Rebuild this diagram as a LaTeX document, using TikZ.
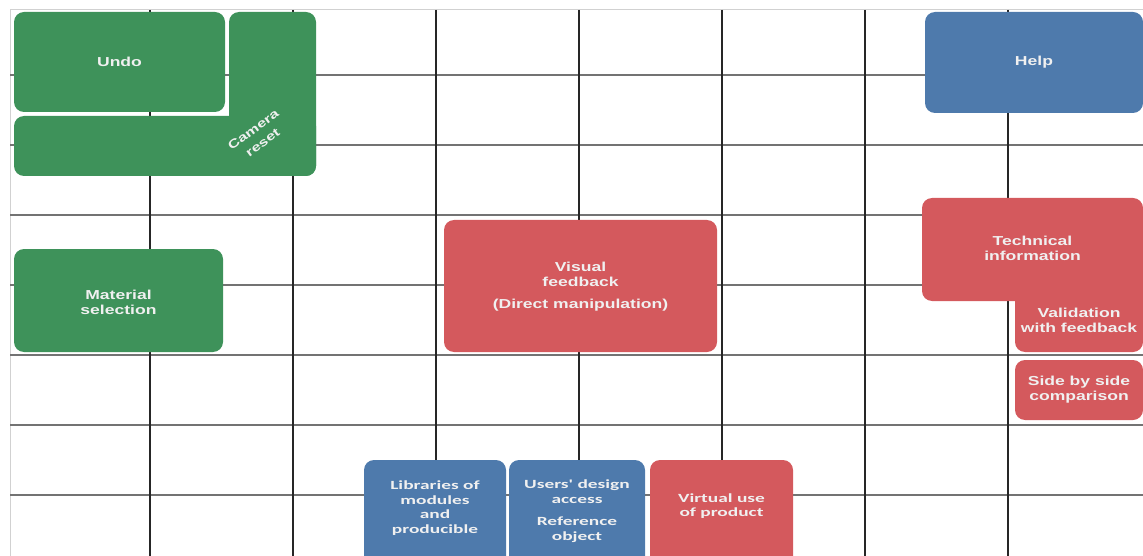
\documentclass[tikz,border=0pt]{standalone}
\usepackage{fontspec}
\usepackage{tikz}
\newfontfamily\boxfont{Liberation Sans}[FakeStretch=1.35]
\newfontfamily\calfont{Carlito}[FakeStretch=1.55]
\definecolor{boxgreen}{HTML}{3E925A}
\definecolor{boxblue}{HTML}{4E7AAC}
\definecolor{boxred}{HTML}{D4595D}
\tikzset{
  box/.style={rounded corners=10pt, inner sep=0pt},
  lbl/.style={text=white!94!black, align=center, inner sep=0pt,
    font=\boxfont\bfseries\fontsize{13}{15}\selectfont},
  clbl/.style={text=white!94!black, align=center, inner sep=0pt,
    font=\calfont\bfseries\fontsize{12.5}{14.5}\selectfont},
}

\begin{document}
\begin{tikzpicture}[x=1pt,y=-1pt]

\useasboundingbox (0,0) rectangle (1143,556);
\clip (0,0) rectangle (1143,556);

% grid
\draw[black!18, line width=1pt] (10,556) -- (10,10) -- (1143,10);
\foreach \y in {75,145,215,285,355,425,495}
  \draw[black!55, line width=1.5pt] (10,\y) -- (1143,\y);
\foreach \x in {150,293,436,579,722,865,1008}
  \draw[black!85, line width=1.5pt] (\x,10) -- (\x,556);

% green group
\fill[boxgreen, box] (14,12) rectangle (225,112);
\node[lbl] (undo) at (119.5,62) {Undo};
\fill[boxgreen, box] (229,12) rectangle (316,176);
\fill[boxgreen, box] (14,116) rectangle (316,176);
\node[lbl, rotate=36, font=\boxfont\bfseries\fontsize{12}{16}\selectfont] (camera) at (258,136) {Camera\\reset};
\fill[boxgreen, box] (14,249) rectangle (223,352);
\node[lbl] (material) at (118.5,302) {Material\\selection};

% centre
\fill[boxred, box] (444,220) rectangle (717,352);
\node[lbl] (visual) at (580.5,287) {Visual\\feedback\\[7pt](Direct manipulation)};

% right column
\fill[boxblue, box] (925,12) rectangle (1143,113);
\node[lbl] (help) at (1034,62) {Help};
\fill[boxred, box] (922,198) rectangle (1143,301);
\fill[boxred, box] (1015,280) rectangle (1143,352);
\node[lbl] (technical) at (1032.5,248) {Technical\\information};
\node[lbl] (validation) at (1079,320) {Validation\\with feedback};
\fill[boxred, box] (1015,360) rectangle (1143,420);
\node[lbl] (sidebyside) at (1079,390) {Side by side\\comparison};

% bottom row
\fill[boxblue, box] (364,460) rectangle (506,576);
\node[clbl] (libraries) at (435,508) {Libraries of\\modules\\and\\producible};
\fill[boxblue, box] (509,460) rectangle (645,576);
\node[clbl] (usersdesign) at (577,511) {Users' design\\access\\[8pt]Reference\\object};
\fill[boxred, box] (650,460) rectangle (793,576);
\node[clbl] (virtualuse) at (721.5,506) {Virtual use\\of product};

\end{tikzpicture}
\end{document}
